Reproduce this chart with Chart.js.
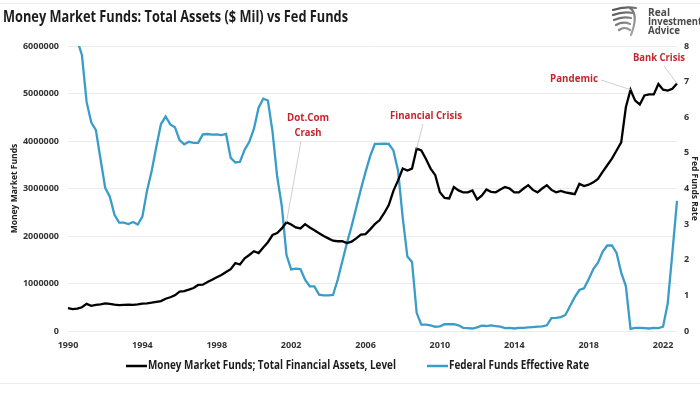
<!DOCTYPE html>
<html lang="en">
<head>
    <meta charset="UTF-8">
    <title>Money Market Funds vs Fed Funds</title>
    <script src="https://cdn.jsdelivr.net/npm/chart.js@4.4.0/dist/chart.umd.min.js"></script>
    <style>
        html, body { margin: 0; padding: 0; background: #fff; }
        #wrap { width: 700px; height: 394px; }
    </style>
</head>
<body>
<div id="wrap"><canvas id="myChart" width="700" height="394"></canvas></div>
<script>
    // quarters 1990Q1 .. 2022Q4
    var years = [];
    for (var y = 1990; y <= 2022; y++) years.push(y);
    var quarters = [];
    years.forEach(function (y) { for (var q = 1; q <= 4; q++) quarters.push(y + 'Q' + q); });

    var xTickYears = ['1990', '1994', '1998', '2002', '2006', '2010', '2014', '2018', '2022'];

    // Money Market Funds; Total Financial Assets, Level ($ Mil), quarterly
    var mmfAssets = [
        480000, 460000, 470000, 500000,
        570000, 530000, 550000, 560000,
        580000, 570000, 555000, 545000,
        550000, 555000, 550000, 560000,
        575000, 580000, 595000, 615000,
        630000, 680000, 710000, 750000,
        830000, 840000, 870000, 905000,
        970000, 975000, 1030000, 1080000,
        1130000, 1180000, 1240000, 1300000,
        1430000, 1400000, 1530000, 1600000,
        1680000, 1640000, 1760000, 1870000,
        2020000, 2060000, 2160000, 2290000,
        2240000, 2180000, 2160000, 2250000,
        2180000, 2120000, 2060000, 2000000,
        1950000, 1900000, 1890000, 1890000,
        1850000, 1880000, 1950000, 2030000,
        2040000, 2140000, 2250000, 2330000,
        2480000, 2650000, 2950000, 3170000,
        3420000, 3380000, 3420000, 3840000,
        3800000, 3620000, 3420000, 3280000,
        2920000, 2800000, 2790000, 3030000,
        2960000, 2920000, 2920000, 2960000,
        2770000, 2850000, 2980000, 2930000,
        2920000, 2980000, 3030000, 3000000,
        2920000, 2920000, 3000000, 3070000,
        2970000, 2920000, 3000000, 3070000,
        2970000, 2920000, 2950000, 2920000,
        2900000, 2880000, 3100000, 3050000,
        3080000, 3130000, 3200000, 3350000,
        3490000, 3630000, 3800000, 3970000,
        4710000, 5080000, 4850000, 4770000,
        4960000, 4980000, 4980000, 5200000,
        5080000, 5060000, 5100000, 5210000
    ];

    // Federal Funds Effective Rate (%), quarterly average
    var fedFunds = [
        8.25, 8.24, 8.16, 7.74,
        6.43, 5.86, 5.64, 4.82,
        4.02, 3.77, 3.26, 3.04,
        3.04, 3.00, 3.06, 2.99,
        3.21, 3.94, 4.49, 5.17,
        5.81, 6.02, 5.80, 5.72,
        5.36, 5.24, 5.31, 5.28,
        5.28, 5.52, 5.53, 5.51,
        5.52, 5.50, 5.53, 4.86,
        4.73, 4.75, 5.09, 5.31,
        5.68, 6.27, 6.52, 6.47,
        5.59, 4.33, 3.50, 2.13,
        1.73, 1.75, 1.74, 1.44,
        1.25, 1.25, 1.02, 1.00,
        1.00, 1.01, 1.43, 1.95,
        2.47, 2.94, 3.46, 3.98,
        4.46, 4.91, 5.25, 5.25,
        5.26, 5.25, 5.07, 4.50,
        3.18, 2.09, 1.94, 0.51,
        0.18, 0.18, 0.16, 0.12,
        0.13, 0.19, 0.19, 0.19,
        0.16, 0.09, 0.08, 0.07,
        0.10, 0.15, 0.14, 0.16,
        0.14, 0.12, 0.08, 0.09,
        0.07, 0.09, 0.09, 0.10,
        0.11, 0.12, 0.13, 0.16,
        0.36, 0.37, 0.39, 0.45,
        0.70, 0.95, 1.15, 1.20,
        1.45, 1.74, 1.92, 2.22,
        2.40, 2.40, 2.19, 1.64,
        1.26, 0.06, 0.09, 0.09,
        0.08, 0.07, 0.09, 0.08,
        0.12, 0.77, 2.19, 3.65
    ];

    // event labels and the quarter they point at
    var eventText = [['Dot.Com', 'Crash'], ['Financial Crisis'], ['Pandemic'], ['Bank Crisis']];
    var eventQuarter = ['2001Q4', '2008Q4', '2020Q2', '2022Q4'];

    var BLACK = '#000000';
    var BLUE = '#3a9cc9';
    var RED = '#c4262e';
    var FONT = '"Open Sans", "DejaVu Sans", sans-serif';

    // draw text squeezed to a given width (keeps glyph height)
    function fitText(ctx, text, x, y, width, size, color, align) {
        ctx.save();
        ctx.font = 'bold ' + size + 'px ' + FONT;
        var m = ctx.measureText(text).width;
        var k = width / m;
        ctx.translate(x, y);
        ctx.scale(k, 1);
        ctx.fillStyle = color;
        ctx.textAlign = align || 'left';
        ctx.textBaseline = 'middle';
        ctx.fillText(text, 0, 0);
        ctx.restore();
    }

    var decor = {
        id: 'decor',
        afterDraw: function (chart) {
            var ctx = chart.ctx;
            var xs = chart.scales.x, ys = chart.scales.y;

            // thin frame lines top and bottom
            ctx.save();
            ctx.strokeStyle = '#ececec';
            ctx.lineWidth = 1;
            ctx.beginPath();
            ctx.moveTo(0, 3.5); ctx.lineTo(700, 3.5);
            ctx.moveTo(0, 383.5); ctx.lineTo(700, 383.5);
            ctx.stroke();
            ctx.restore();

            // title
            fitText(ctx, 'Money Market Funds: Total Assets ($ Mil) vs Fed Funds', 3, 17, 345, 16.5, '#1c1c1c');

            // logo
            ctx.save();
            var g = ctx.createLinearGradient(612, 6, 637, 36);
            g.addColorStop(0, '#4a4a4a');
            g.addColorStop(1, '#b5b5b5');
            ctx.strokeStyle = g;
            ctx.lineCap = 'round';
            ctx.lineWidth = 2.2;
            var feathers = [[613, 10, 636, 8], [613, 15, 633, 13], [614, 20, 631, 18], [616, 25, 630, 24], [619, 30, 630, 30]];
            feathers.forEach(function (f) {
                ctx.beginPath();
                ctx.moveTo(f[0], f[1]);
                ctx.quadraticCurveTo((f[0] + f[2]) / 2, f[1] - 4, f[2], f[3]);
                ctx.stroke();
            });
            ctx.beginPath();
            ctx.moveTo(630, 8); ctx.quadraticCurveTo(639, 14, 631, 35);
            ctx.stroke();
            ctx.restore();
            fitText(ctx, 'Real', 648, 13, 22, 10.5, '#4a4a4a');
            fitText(ctx, 'Investment', 648, 22, 54, 10.5, '#4a4a4a');
            fitText(ctx, 'Advice', 648, 31, 32, 10.5, '#4a4a4a');

            // event annotations
            var textPos = [[308, 118, 42], [426, 116, 72], [574, 79, 48], [659, 58, 52]];
            var lineStart = [[301, 141], [423, 124], [601, 80], [664, 66]];
            eventText.forEach(function (lines, i) {
                var idx = quarters.indexOf(eventQuarter[i]);
                var px = xs.getPixelForValue(idx);
                var py = ys.getPixelForValue(mmfAssets[idx]);
                ctx.save();
                ctx.strokeStyle = '#cfcfcf';
                ctx.lineWidth = 1;
                ctx.beginPath();
                ctx.moveTo(lineStart[i][0], lineStart[i][1]);
                ctx.lineTo(px, py);
                ctx.stroke();
                ctx.restore();
                lines.forEach(function (t, j) {
                    var w = j === 0 ? textPos[i][2] : 27;
                    fitText(ctx, t, textPos[i][0], textPos[i][1] + j * 15, w, 10.5, RED, 'center');
                });
            });

            // legend
            var items = chart.data.datasets;
            var legendX = [[126, 147, 248], [427, 448, 140]];
            items.forEach(function (ds, i) {
                ctx.save();
                ctx.strokeStyle = ds.borderColor;
                ctx.lineWidth = 2.5;
                ctx.beginPath();
                ctx.moveTo(legendX[i][0], 366);
                ctx.lineTo(legendX[i][1], 366);
                ctx.stroke();
                ctx.restore();
                fitText(ctx, ds.label, legendX[i][1] + 1, 366, legendX[i][2], 11.5, '#1c1c1c');
            });
        }
    };

    var tickFont = { family: FONT, size: 9, weight: 'bold' };

    var chartArea = document.getElementById('myChart').getContext('2d');
    var myChart = new Chart(chartArea, {
        type: 'line',
        data: {
            labels: quarters,
            datasets: [{
                label: 'Money Market Funds; Total Financial Assets, Level',
                data: mmfAssets,
                borderColor: BLACK,
                backgroundColor: BLACK,
                borderWidth: 2.3,
                pointRadius: 0,
                tension: 0,
                yAxisID: 'y'
            }, {
                label: 'Federal Funds Effective Rate',
                data: fedFunds,
                borderColor: BLUE,
                backgroundColor: BLUE,
                borderWidth: 2.3,
                pointRadius: 0,
                tension: 0,
                yAxisID: 'y1'
            }]
        },
        options: {
            responsive: false,
            animation: false,
            layout: { padding: { top: 46, left: 0, right: 0, bottom: 33 } },
            plugins: {
                legend: { display: false },
                title: { display: false },
                tooltip: { enabled: false }
            },
            scales: {
                x: {
                    type: 'category',
                    offset: false,
                    grid: { display: false, drawTicks: false },
                    border: { display: false },
                    afterBuildTicks: function (s) {
                        s.ticks = s.ticks.filter(function (t) {
                            var l = quarters[t.value];
                            return l.slice(4) === 'Q1' && xTickYears.indexOf(l.slice(0, 4)) >= 0;
                        });
                    },
                    afterFit: function (s) { s.height = 30; },
                    ticks: {
                        autoSkip: false,
                        maxRotation: 0,
                        padding: 9,
                        color: '#333',
                        font: tickFont,
                        callback: function (v) { return quarters[v].slice(0, 4); }
                    }
                },
                y: {
                    position: 'left',
                    min: 0,
                    max: 6000000,
                    afterFit: function (s) { s.width = 68; },
                    grid: { color: '#ececec', drawTicks: false },
                    border: { display: false },
                    ticks: {
                        stepSize: 1000000,
                        padding: 9,
                        color: '#333',
                        font: tickFont,
                        callback: function (v) { return String(v); }
                    },
                    title: {
                        display: true,
                        text: 'Money Market Funds',
                        color: '#222',
                        font: { family: FONT, size: 8.5, weight: 'bold' },
                        padding: { top: 9, bottom: 0 }
                    }
                },
                y1: {
                    position: 'right',
                    min: 0,
                    max: 8,
                    afterFit: function (s) { s.width = 23; },
                    grid: { display: false, drawTicks: false },
                    border: { display: false },
                    ticks: {
                        stepSize: 1,
                        padding: 7,
                        color: '#333',
                        font: tickFont
                    },
                    title: {
                        display: true,
                        text: 'Fed Funds Rate',
                        color: '#222',
                        font: { family: FONT, size: 8.5, weight: 'bold' },
                        padding: { top: 0, bottom: 0 }
                    }
                }
            }
        },
        plugins: [decor]
    });
</script>
</body>
</html>
